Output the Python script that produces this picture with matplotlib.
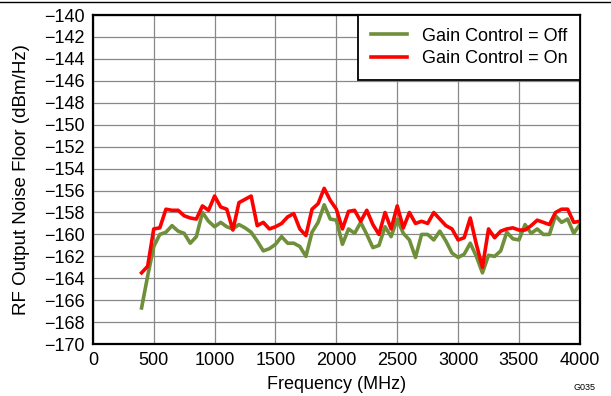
import numpy as np
import matplotlib
matplotlib.use("Agg")
import matplotlib.pyplot as plt

plt.rcParams['font.family'] = ['Liberation Sans', 'DejaVu Sans']

freq = np.arange(400, 4001, 50)

gain_off = [
    -166.7, -163.8, -161.1, -160.0, -159.8, -159.2, -159.7, -159.9, -160.8, -160.2,
    -158.0, -158.8, -159.3, -158.9, -159.3, -159.5, -159.1, -159.4, -159.8, -160.6,
    -161.5, -161.3, -160.9, -160.2, -160.8, -160.8, -161.1, -162.0, -159.8, -158.9,
    -157.3, -158.6, -158.7, -160.9, -159.5, -159.9, -158.9, -160.0, -161.2, -161.0,
    -159.3, -160.2, -158.6, -159.9, -160.5, -162.1, -160.0, -160.0, -160.5, -159.7,
    -160.6, -161.7, -162.1, -161.8, -160.8, -162.0, -163.5, -161.9, -162.0, -161.5,
    -159.8, -160.4, -160.5, -159.1, -159.9, -159.5, -160.0, -160.0, -158.3, -158.9,
    -158.6, -159.9, -159.1,
]

gain_on = [
    -163.5, -162.9, -159.5, -159.4, -157.7, -157.8, -157.8, -158.3, -158.5, -158.6,
    -157.4, -157.8, -156.5, -157.5, -157.7, -159.6, -157.1, -156.8, -156.5, -159.2,
    -158.9, -159.5, -159.3, -159.0, -158.4, -158.1, -159.5, -160.1, -157.7, -157.2,
    -155.8, -156.9, -157.7, -159.5, -157.9, -157.8, -158.8, -157.8, -159.1, -160.0,
    -158.0, -159.5, -157.4, -159.4, -158.0, -159.0, -158.8, -159.0, -158.0, -158.6,
    -159.2, -159.5, -160.5, -160.3, -158.5, -160.9, -163.0, -159.5, -160.3, -159.7,
    -159.5, -159.4, -159.6, -159.6, -159.2, -158.7, -158.9, -159.1, -158.0, -157.7,
    -157.7, -158.9, -158.8,
]

fig = plt.figure(figsize=(6.11, 3.96), dpi=100)
ax = fig.add_axes([0.152, 0.131, 0.797, 0.831])

ax.plot(freq, gain_off, color='#6f8f3a', lw=2.6, label='Gain Control = Off')
ax.plot(freq, gain_on, color='#ff0000', lw=2.6, label='Gain Control = On')

ax.set_xlim(0, 4000)
ax.set_ylim(-170, -140)
ax.set_xticks(np.arange(0, 4001, 500))
ax.set_yticks(np.arange(-170, -139, 2))
ax.grid(True, color='#888888', lw=0.9)
ax.set_axisbelow(True)
ax.tick_params(length=0, labelsize=13, pad=6)
for s in ax.spines.values():
    s.set_linewidth(1.6)

ax.set_xlabel('Frequency (MHz)', fontsize=13, labelpad=5)
ax.set_ylabel('RF Output Noise Floor (dBm/Hz)', fontsize=13.5, labelpad=10)

leg = ax.legend(loc='upper right', fontsize=13, fancybox=False, framealpha=1,
                edgecolor='black', borderaxespad=0, handlelength=2.0,
                borderpad=0.7, labelspacing=0.3, handletextpad=0.8)
leg.get_frame().set_linewidth(1.3)

fig.text(0.975, 0.01, 'G035', fontsize=6.5, ha='right', va='bottom')
fig.add_artist(plt.Line2D([0, 1], [0.995, 0.995], color='black', lw=1))

fig.savefig('out.png', dpi=100)
